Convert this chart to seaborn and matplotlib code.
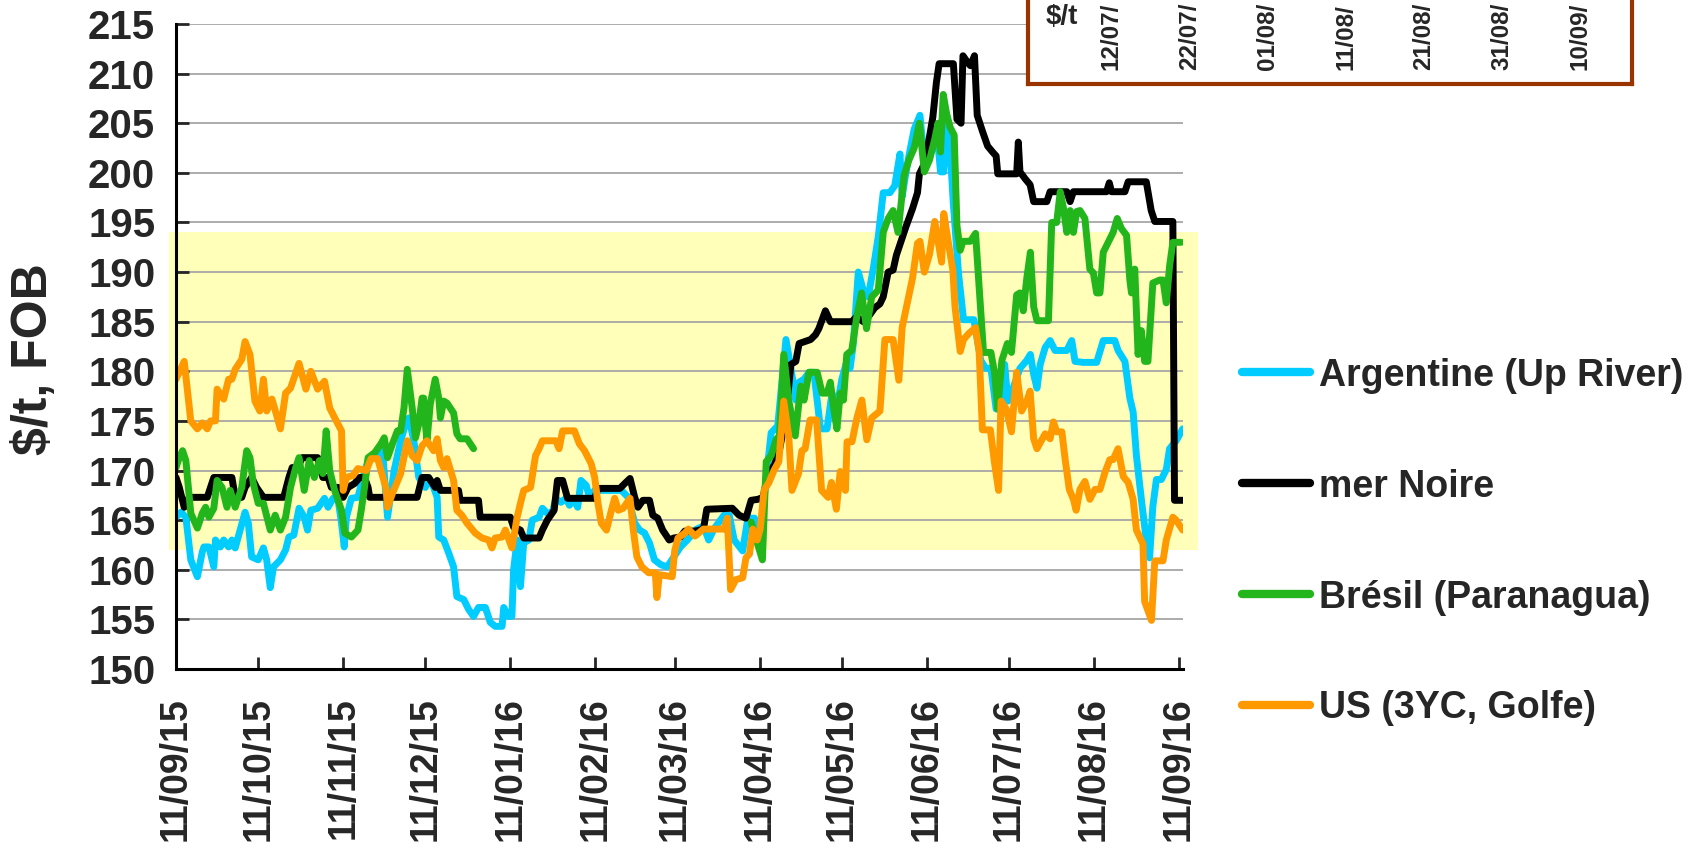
import pandas as pd
import numpy as np
import matplotlib.pyplot as plt
import matplotlib.dates as mdates
from matplotlib.patches import Rectangle
import seaborn as sns

# Prix FOB, jours comptés depuis le 11/09/15
start = pd.Timestamp('2015-09-11')

arg_days = [0, 1.8, 3.6, 5.4, 7.8, 9.6, 10.2, 12, 13.8, 14.4, 16.2, 17.4, 19.2, 20.4, 21.6, 23.4,
            25.2, 26.4, 27.6, 30, 31.9, 33.1, 34.4, 35.6, 38.1, 40, 41.2, 43, 44.9, 46.8, 48, 49.2,
            51.7, 54.2, 55.5, 57.3, 59.2, 60.4, 61.4, 62.2, 64, 66.4, 68.2, 70.1, 71.2, 73.6, 75.4,
            77.2, 79.6, 82, 83.8, 85, 86.8, 88.6, 91, 92.2, 94, 95.3, 95.9, 97.7, 99.5, 101.3, 102.5,
            105, 106.8, 108.6, 110.4, 112.9, 114.7, 116.5, 119, 119.6, 121.4, 122.6, 123.2, 124.5,
            125.7, 126.9, 128.8, 130, 132.5, 133.7, 135.5, 137.4, 138.6, 140.5, 142.3, 143.6, 144.8,
            146.6, 147.8, 149.7, 150.9, 152.8, 162.6, 165, 167.4, 169.2, 171, 172.8, 174.6, 177,
            179.3, 181.7, 184.1, 186.6, 190, 192.5, 194.4, 196.3, 200, 201.9, 203.7, 206.8, 208.7,
            211.1, 213.6, 214.8, 217.2, 219.6, 222.6, 224.4, 226.2, 227.4, 229.2, 231, 232.8, 235.2,
            237.6, 239.4, 241.2, 243, 244.8, 246, 247.2, 249, 250.8, 252.6, 254.5, 256.3, 258.1,
            260.5, 262.3, 264.2, 265, 266.9, 269.4, 271.5, 272.5, 273.8, 276.2, 278.1, 279, 280.2,
            281.2, 282.5, 283.7, 285.6, 287.4, 291.2, 293.7, 295.5, 297.4, 299.3, 301.1, 302.4,
            303.6, 305.5, 308, 310.5, 311.8, 313, 314.2, 315.4, 317.2, 319, 320.8, 325.1, 326.9,
            328.1, 331.1, 336, 338.4, 342.6, 343.8, 346.3, 348.1, 349.3, 350.5, 352.3, 354.1, 355.3,
            356.5, 357.8, 359.6, 361.4, 362.6, 365, 367.4]
arg_vals = [165.3, 165.8, 165.3, 161, 159.3, 161.8, 162.3, 162.3, 160.3, 163, 162.3, 163, 162.3, 163,
            162.2, 164, 165.8, 164.7, 161.3, 161, 162.2, 161, 158.2, 160.3, 161, 162, 163.3, 163.5,
            166.2, 165.3, 164, 166, 166.2, 167.2, 166.3, 167.2, 167, 164.7, 162.3, 165.3, 167.2,
            167.3, 169.3, 171, 171.3, 171.5, 172, 165.3, 170, 173, 174.7, 175.3, 173, 169.3, 168.3,
            169.3, 168.3, 167.3, 163.3, 163, 161.7, 160.3, 157.3, 157, 156, 155.3, 156.2, 156.2,
            154.7, 154.3, 154.3, 156.2, 155.3, 155.3, 160, 163, 158.3, 162.7, 163, 165, 165.3, 166.2,
            165.7, 165.8, 167.2, 166.8, 167.2, 166.5, 167.2, 166.3, 169, 168.5, 167.3, 168, 168,
            167.3, 164.7, 164, 163.7, 162.7, 161, 160.5, 160.3, 161.3, 162.3, 163, 164.1, 164.4, 163,
            164.1, 165.5, 165.5, 163, 161.9, 165.2, 165.2, 163, 167.7, 173.8, 174.5, 183.2, 180.3,
            177.1, 178.9, 179.2, 179.9, 179.9, 174.2, 174.2, 177.8, 176.3, 179.2, 181, 180.3, 182.8,
            190, 188.2, 187.5, 190.4, 193.6, 198, 198, 198.7, 201.9, 197.6, 200.9, 204.4, 205.8,
            202.9, 200.9, 202.5, 202.9, 200.1, 200.1, 205, 202.5, 196.8, 189.8, 185.2, 185.2, 181.1,
            180.3, 180.3, 176.2, 176.2, 180.7, 177, 178.3, 180.3, 181.1, 181.7, 179.7, 178.3, 180.7,
            182.4, 183.1, 182.1, 182.1, 183.1, 181, 180.9, 180.9, 183.1, 183.1, 182.1, 181, 177.3,
            175.9, 171.5, 167.1, 163, 161.2, 166.4, 169.1, 169.1, 170.1, 172.2, 173, 174.2]

noire_days = [0, 1.2, 3, 4.8, 11.4, 12.6, 13.8, 20.4, 21.6, 24, 25.2, 27.6, 29.4, 31.9, 39.3, 41.2,
              42.4, 44.3, 46.1, 51.7, 53.6, 55.5, 56.7, 59.2, 61, 62.8, 65.2, 67, 68.8, 70.1, 70.7,
              88, 89.8, 92.2, 94.6, 95.3, 96.5, 103.1, 103.7, 110.4, 111, 122, 123.2, 125.7, 126.9,
              132.5, 133.7, 135.5, 138, 139.2, 141.1, 142.9, 152.8, 154, 162, 163.8, 165.7, 167.4,
              168.6, 170.4, 172.8, 174, 175.8, 177.6, 180, 181.7, 184.1, 185.7, 189.4, 192.5, 193.7,
              203, 205.5, 208, 209.9, 212.4, 214.2, 216, 218.4, 220.2, 222.6, 224.4, 226.2, 227.4,
              231.6, 233.4, 234.6, 235.8, 237, 238.8, 246.6, 248.4, 250.8, 253.2, 255, 256.9, 258.1,
              259.9, 261.7, 262.9, 266.3, 268.8, 270.6, 271.3, 273.1, 274.4, 276.2, 277.5, 278.5,
              283.7, 285, 286.5, 287.2, 288.7, 289.9, 291.4, 292.4, 294.3, 296.2, 298, 299.3, 299.9,
              306.8, 307.4, 308, 309.9, 311.7, 313, 317.8, 319, 325.1, 326.3, 327.5, 339.6, 340.6,
              341.4, 346.3, 347.5, 354.1, 355.9, 357.2, 363.8, 364.4, 367.4]
noire_vals = [169.3, 168.3, 166.3, 167.3, 167.3, 168.3, 169.3, 169.3, 167.3, 167.3, 168.3, 169.3,
              168.3, 167.3, 167.3, 169.3, 170.3, 170.3, 171.3, 171.3, 169.3, 169.3, 168.3, 168.3,
              167.3, 168.3, 168.7, 169.3, 169.3, 168.3, 167.3, 167.3, 169.3, 169.3, 168.3, 169, 168,
              168, 167, 167, 165.3, 165.3, 164.3, 164, 163.2, 163.2, 164, 165, 166, 169, 169, 167.2,
              167.2, 168.2, 168.2, 168.7, 169.2, 167.3, 166.3, 167, 167, 165.5, 165.2, 164, 163,
              163.2, 163.3, 163.9, 163.9, 164.1, 166.1, 166.2, 165.5, 165.2, 167, 167.1, 167.3, 169.5,
              170.6, 172, 175.6, 180.7, 181, 182.8, 183.2, 183.7, 184.3, 185.2, 186.1, 185, 185,
              185.5, 185, 185.7, 186.4, 186.8, 187.5, 190, 190.2, 191.7, 194.5, 196.4, 198, 199.9,
              200.9, 202.7, 205.6, 209.1, 211, 211, 205.4, 205, 211.8, 211.2, 210.8, 211.8, 205.8,
              204.2, 202.7, 202.1, 201.7, 199.9, 199.9, 203.1, 200.1, 199.4, 198.8, 197.1, 197.1,
              198.1, 198.1, 197.1, 198.1, 198.1, 199, 198.1, 198.1, 199.1, 199.1, 196.2, 195.1, 195.1,
              167, 167]

# Brésil : deux tronçons (pas de cotation entre fin décembre et début avril)
bre1_days = [0, 1.2, 2.4, 3.6, 5.4, 7.8, 9.6, 10.8, 12, 13.8, 15, 16.8, 18.6, 19.8, 21.6, 24, 25.8,
             27, 28.2, 30, 31.9, 34.4, 36.2, 38.1, 40, 41.8, 43.7, 44.9, 46.8, 48.6, 50.5, 52.3,
             53.6, 54.8, 56.1, 57.9, 60.4, 61.6, 64, 66.4, 67.6, 68.8, 70.1, 72.5, 74.8, 76, 77.2,
             79, 80.8, 82, 83.2, 84.4, 86.2, 87.4, 88.6, 89.8, 90.4, 91, 91.6, 92.8, 94.6, 95.9,
             96.5, 97.7, 98.9, 101.3, 102.5, 103.7, 106.2, 108.6]
bre1_vals = [170.3, 171.3, 172, 171, 165.7, 164.2, 165.7, 166.3, 165.3, 166.2, 169, 168.3, 166.3, 168,
             166.3, 168.3, 172, 171.3, 168.7, 166.7, 166.7, 164, 165.5, 164, 165.3, 168.3, 170.3,
             171.3, 168, 171, 169.3, 171, 169.7, 174, 170, 168, 166, 163.7, 163.3, 164, 166, 168.3,
             171.3, 171.8, 172.7, 173.3, 171.3, 172.7, 174, 174, 176.3, 180.2, 176.3, 173.3, 174.7,
             177.3, 177.3, 174.7, 173, 176.7, 179.2, 177.3, 175.3, 177, 176.8, 175.8, 173.7, 173.2,
             173.2, 172.2]
bre2_days = [209.9, 211.8, 214, 215.4, 217.2, 219, 220.2, 221.8, 223.6, 226, 228, 229.2, 231, 234,
             235.8, 237.6, 238.8, 240, 241.2, 242.4, 243.6, 244.8, 246.6, 248.4, 250.2, 252, 253.9,
             256.3, 258.1, 259.9, 261.7, 263.5, 265.7, 267.5, 269.4, 271.3, 273.1, 275, 276.9,
             278.1, 279, 280, 281.2, 282.5, 284, 285, 286.2, 287.2, 289.9, 291.8, 293.1, 294.7,
             297.4, 298.7, 299.9, 301.4, 303.4, 304.9, 306.8, 308, 309.2, 310.5, 311.8, 313, 314.2,
             318.4, 319.6, 321.4, 322.7, 323.9, 325.1, 326.3, 327.5, 328.7, 329.9, 331.7, 333.5,
             334.8, 336, 337.2, 338.4, 340.2, 342, 343.5, 345, 346.9, 348.1, 348.7, 349.9, 351.1,
             352.3, 353.5, 354.7, 356.5, 359, 360.2, 361.4, 362.6, 363.8, 366.8]
bre2_vals = [164.8, 163, 161, 170.9, 171.5, 173.1, 173.5, 181.7, 177.1, 173.5, 178.5, 177.1, 179.9,
             179.9, 177.8, 177.8, 178.9, 176.3, 174.2, 177.8, 177.1, 181.7, 182.1, 185.4, 187.9,
             184.3, 187.5, 188.2, 194, 195.4, 196.2, 194, 199.7, 201.3, 202.5, 205, 200.1, 201.3,
             203.4, 205, 202.1, 207.9, 206, 204.6, 203.8, 194.7, 192.2, 193.1, 193.1, 193.9, 188.5,
             181.9, 181.9, 179.9, 176.2, 181.1, 182.8, 181.9, 187.7, 187.9, 186.1, 189.4, 192, 186.5,
             185.1, 185.1, 195, 195, 198.1, 196.4, 194, 196.2, 194, 196.1, 196.2, 195.4, 190.3,
             189.9, 187.9, 187.9, 192, 193, 194, 195.4, 194.4, 193.7, 189.2, 187.9, 190.3, 181.7,
             184.1, 181, 181, 188.9, 189.2, 189.2, 186.9, 190.6, 193, 193]

us_days = [0, 3, 5.4, 7.8, 9.6, 11.4, 12.6, 14.4, 15, 17.4, 19.2, 20.4, 21.6, 24, 25.2, 27, 28.8,
           30.6, 31.9, 33.1, 35, 36.6, 38.1, 40, 41.8, 44.9, 47.4, 49.2, 51.7, 54.2, 56.1, 58.5,
           60.4, 61, 62.2, 64.6, 66.4, 69.4, 71.2, 73.6, 74.8, 76.6, 77.2, 79, 82, 84.4, 86.2, 88,
           89.8, 91.6, 94, 95.3, 96.5, 97.7, 98.9, 101.3, 102.5, 104.3, 106.2, 109.2, 111.7, 114.1,
           115.3, 116.5, 119, 120.2, 122.6, 124.5, 125.7, 126.9, 129.4, 131.2, 132.5, 133.7, 138.6,
           139.8, 141.1, 145.4, 147.2, 149.1, 151.5, 152.8, 154, 155.2, 157.1, 158.9, 160.1, 161.4,
           163.2, 165.7, 166.9, 168.2, 170, 172.5, 174.9, 175.5, 176.4, 181.1, 182, 183.2, 185.7,
           187, 189.4, 192.5, 200, 201.2, 202.4, 204.3, 206.8, 208, 209.3, 210.5, 212.1, 213.2,
           214.6, 216.4, 218.2, 220, 221.8, 223.6, 224.8, 227.2, 228.4, 229.6, 231.4, 233.8, 235.6,
           238, 239.2, 241, 242.4, 244.3, 244.9, 246.7, 248.5, 250.3, 252.1, 253.9, 256.9, 258.7,
           261.7, 263.8, 265, 266.9, 268.8, 270.6, 271.5, 273.1, 275, 276.9, 278.1, 279.4, 280.2,
           281.8, 283.5, 284.3, 286.2, 287.4, 289.3, 291.8, 293.1, 294.3, 297.2, 298.7, 300.2,
           301.1, 303, 304.9, 306.8, 308.6, 310.5, 311.7, 313, 314.2, 317.2, 319, 320.2, 321.4,
           323.3, 324.5, 326, 327.5, 328.5, 329.9, 331.7, 333.5, 335.4, 337.2, 339, 340.8, 342,
           343.8, 345.7, 347.5, 349.3, 350.5, 352.9, 353.5, 356, 357.2, 360.2, 361.4, 363.8, 365,
           367.4]
us_vals = [179.2, 181, 175, 174.2, 174.8, 174.2, 175, 175, 178.2, 177.2, 179.2, 179.2, 180.2, 181.2,
           183, 181.7, 177, 176, 179.2, 176, 177.2, 175.7, 174.2, 177.8, 178.3, 180.8, 178.2, 180,
           178.2, 179, 176.3, 175, 174, 168, 169.3, 169.5, 170.2, 170, 171.2, 171.2, 170, 168.3,
           166.3, 167.7, 169.7, 173, 171.5, 171, 172.5, 173, 172, 173.2, 171, 170.3, 171.2, 169,
           166, 165.5, 164.7, 163.7, 163.2, 163, 162.2, 163.2, 163.3, 164, 162.2, 165.3, 166.7, 168,
           168.3, 171.5, 172.2, 173, 173, 172.2, 174, 174, 172.7, 172, 170.7, 169.3, 166.7, 164.7,
           164, 166, 167.2, 166, 166.2, 167.2, 164, 161.3, 160.3, 159.7, 159.7, 157.2, 159.5, 159.3,
           161.9, 163.2, 163.7, 164.1, 163.4, 164.1, 164.1, 165.2, 158, 159, 159.2, 161.2, 161.6,
           164.1, 163, 164.1, 168, 168.8, 170, 170.9, 177, 173.5, 168, 169.7, 172, 172.2, 175.1,
           175.1, 168, 167.3, 168.8, 166.1, 169.9, 168, 172.9, 172.9, 175.3, 177.1, 173.1, 175.3,
           176, 183.2, 183.2, 179.1, 184.4, 186.9, 189.4, 192.9, 193.1, 190, 191.8, 195.1, 193.1,
           191, 195.9, 193.1, 190.2, 186.5, 182, 183.2, 183.8, 184.4, 182, 174.1, 174.1, 170.8, 168,
           177, 176.2, 173.9, 179.9, 176, 177, 178, 173.2, 172.2, 173.7, 173.2, 174.9, 173.9, 173.9,
           171.1, 168.1, 167.1, 166, 168.1, 168.9, 167.1, 168.1, 168.1, 169.8, 171.1, 171.1, 172.2,
           169.4, 168.8, 167.1, 164, 162.6, 156.8, 154.9, 160.9, 160.9, 163, 165.3, 165, 164]

markets = ['Argentine (Up River)', 'mer Noire', 'Brésil (Paranagua)', 'US (3YC, Golfe)']
colors = ['#00CCFF', '#000000', '#22B61C', '#FF9900']

band_low, band_high = 162, 194
inset_dates = ['12/07/', '22/07/', '01/08/', '11/08/', '21/08/', '31/08/', '10/09/']


def to_frame(days, vals, market, segment):
    return pd.DataFrame({'date': start + pd.to_timedelta(days, unit='D'),
                         'price': vals, 'market': market, 'segment': segment})


df = pd.concat([
    to_frame(arg_days, arg_vals, markets[0], 'arg'),
    to_frame(noire_days, noire_vals, markets[1], 'noire'),
    to_frame(bre1_days, bre1_vals, markets[2], 'bre1'),
    to_frame(bre2_days, bre2_vals, markets[2], 'bre2'),
    to_frame(us_days, us_vals, markets[3], 'us'),
], ignore_index=True)

sns.set_style('white')
plt.rcParams['font.family'] = ['Liberation Sans', 'DejaVu Sans']
plt.rcParams['font.weight'] = 'bold'
plt.rcParams['axes.labelweight'] = 'bold'

fig = plt.figure(figsize=(16.97, 8.48), dpi=100)
ax = fig.add_axes([176 / 1697, 1 - 669 / 848, 1007 / 1697, 645 / 848])

sns.lineplot(data=df, x='date', y='price', hue='market', hue_order=markets,
             palette=dict(zip(markets, colors)), units='segment', estimator=None,
             linewidth=5, solid_joinstyle='round', solid_capstyle='round', ax=ax)

# zone jaune
x0 = mdates.date2num(start - pd.Timedelta(days=2.5))
ax.add_patch(Rectangle((x0, band_low), 375.5, band_high - band_low, facecolor='#FFFFBA',
                       edgecolor='none', zorder=0.1, clip_on=False))

ax.set_xlim(start, start + pd.Timedelta(days=367.5))
ax.set_ylim(150, 215)
ax.set_yticks(np.arange(150, 216, 5))
ax.set_xticks([start + pd.DateOffset(months=i) for i in range(13)])
ax.xaxis.set_major_formatter(mdates.DateFormatter('%d/%m/%y'))

ax.set_axisbelow(True)
ax.yaxis.grid(True, color='#A6A6A6', linewidth=1.3)
ax.xaxis.grid(False)
sns.despine(ax=ax)
for s in ['left', 'bottom']:
    ax.spines[s].set_color('black')
    ax.spines[s].set_linewidth(2.2)

ax.tick_params(axis='y', direction='in', length=9, width=2, pad=15, labelsize=29, left=True)
ax.tick_params(axis='x', direction='in', length=9, width=2, pad=20, labelsize=27,
               labelrotation=90, bottom=True)

ax.set_xlabel('')
ax.set_ylabel('$/t, FOB', fontsize=36)
ax.yaxis.set_label_coords(-0.118, 0.48)

old = ax.get_legend()
handles = old.legend_handles
labels = [t.get_text() for t in old.get_texts()]
old.remove()
leg = ax.legend(handles, labels, loc='center left', bbox_to_anchor=(1242 / 1697, 1 - 542 / 848),
                bbox_transform=fig.transFigure, frameon=False, fontsize=27, handlelength=1.8,
                handletextpad=0.25, labelspacing=2.0, borderpad=0, borderaxespad=0)
for line in leg.get_lines():
    line.set_linewidth(6)

# encadré d'un autre graphique, coupé en haut
box = fig.add_axes([1028 / 1697, 1 - 84 / 848, 604 / 1697, 0.2])
box.set_facecolor('white')
box.set_xticks([])
box.set_yticks([])
for s in box.spines.values():
    s.set_color('#993300')
    s.set_linewidth(3)
fig.text(1046 / 1697, 1 - 4 / 848, '$/t', ha='left', va='top', fontsize=20)
for i, lab in enumerate(inset_dates):
    fig.text((1111 + 78.2 * i) / 1697, 1 - 70 / 848, lab, rotation=90,
             ha='center', va='bottom', fontsize=17.5)

fig.savefig('out.png', dpi=100)
